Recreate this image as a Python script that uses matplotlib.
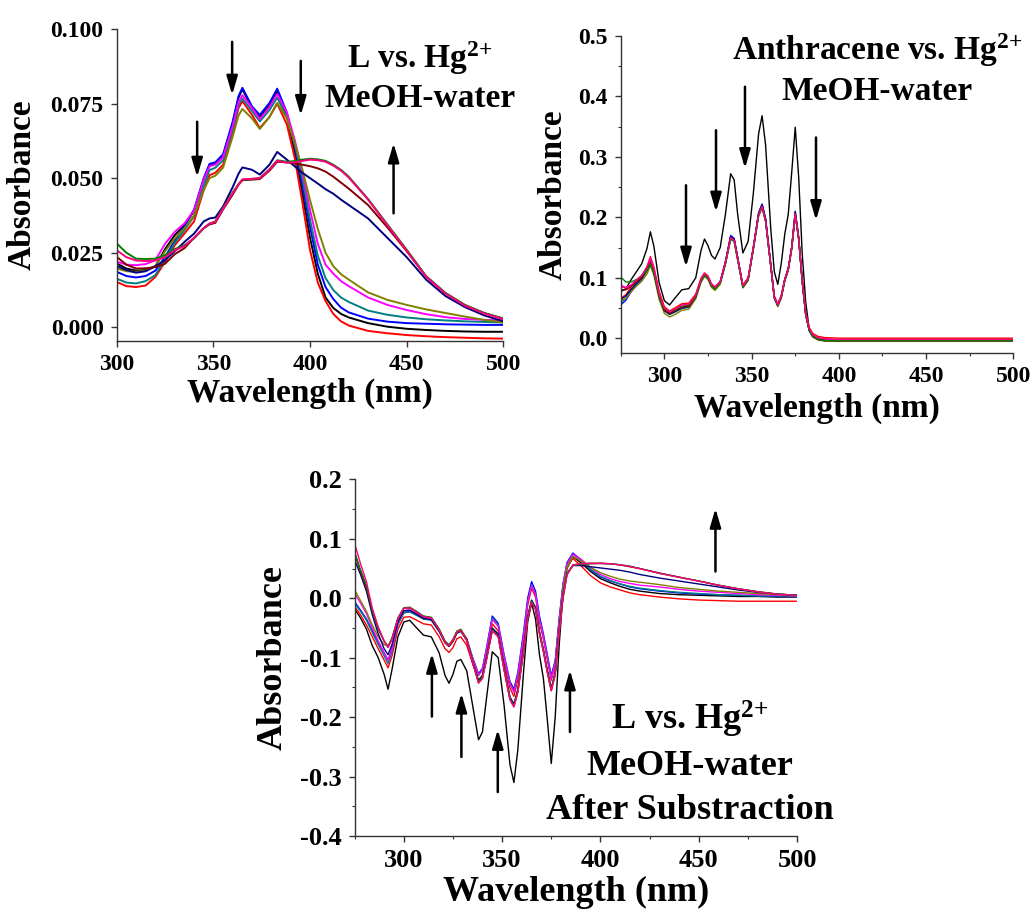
import matplotlib
matplotlib.use('Agg')
import matplotlib.pyplot as plt
from matplotlib.ticker import MultipleLocator, FormatStrFormatter

plt.rcParams['font.family'] = ['Liberation Serif', 'DejaVu Serif']
plt.rcParams['font.weight'] = 'bold'
plt.rcParams['mathtext.fontset'] = 'custom'
plt.rcParams['mathtext.rm'] = 'Liberation Serif:bold'
plt.rcParams['mathtext.it'] = 'Liberation Serif:bold'
plt.rcParams['mathtext.bf'] = 'Liberation Serif:bold'
plt.rcParams['axes.unicode_minus'] = False

# colour order used in all three panels
curve_colors = ['#000000', '#ff0000', '#0000ff', '#008080', '#ff00ff',
                '#808000', '#000080', '#800000', '#008000', '#ff0080']

################ PANEL 1 : L vs. Hg2+ ####################
l_wl = [300, 305, 310, 315, 320, 325, 330, 335, 340, 345, 348, 351, 355, 360, 363, 365,
        370, 374, 379, 383, 388, 392, 396, 400, 404, 408, 412, 416, 420, 430, 440, 450,
        460, 470, 480, 490, 500]
l_black = [0.0214, 0.0197, 0.0190, 0.0192, 0.0205, 0.0262, 0.0309, 0.0342, 0.0390, 0.0495, 0.0542, 0.0548,
           0.0575, 0.0685, 0.0770, 0.0798, 0.0735, 0.0705, 0.0745, 0.0790, 0.0710, 0.0590, 0.0450, 0.0300,
           0.0180, 0.0100, 0.0065, 0.0045, 0.0033, 0.0014, 0.0002, -0.0005, -0.0009, -0.0012, -0.0014,
           -0.0015, -0.0015]
l_red = [0.0152, 0.0138, 0.0135, 0.0140, 0.0169, 0.0219, 0.0275, 0.0314, 0.0355, 0.0460, 0.0510, 0.0518,
         0.0545, 0.0655, 0.0735, 0.0758, 0.0712, 0.0668, 0.0705, 0.0750, 0.0680, 0.0570, 0.0420, 0.0258,
         0.0150, 0.0088, 0.0045, 0.0020, 0.0006, -0.0012, -0.0020, -0.0026, -0.0030, -0.0033, -0.0035,
         -0.0037, -0.0038]
l_blue = [0.0186, 0.0172, 0.0167, 0.0172, 0.0190, 0.0236, 0.0290, 0.0338, 0.0395, 0.0500, 0.0548, 0.0553,
          0.0580, 0.0690, 0.0775, 0.0803, 0.0740, 0.0712, 0.0752, 0.0800, 0.0720, 0.0610, 0.0480, 0.0337,
          0.0210, 0.0135, 0.0095, 0.0066, 0.0050, 0.0029, 0.0019, 0.0014, 0.0012, 0.0010, 0.0009, 0.0008,
          0.0008]
l_teal = [0.0163, 0.0150, 0.0147, 0.0155, 0.0175, 0.0228, 0.0283, 0.0325, 0.0372, 0.0475, 0.0527, 0.0535,
          0.0560, 0.0665, 0.0745, 0.0767, 0.0725, 0.0690, 0.0728, 0.0770, 0.0705, 0.0615, 0.0500, 0.0360,
          0.0240, 0.0165, 0.0125, 0.0100, 0.0085, 0.0056, 0.0042, 0.0033, 0.0027, 0.0023, 0.0020, 0.0018,
          0.0016]
l_magenta = [0.0220, 0.0210, 0.0208, 0.0212, 0.0225, 0.0280, 0.0320, 0.0348, 0.0392, 0.0495, 0.0540, 0.0545,
             0.0570, 0.0675, 0.0755, 0.0778, 0.0735, 0.0698, 0.0738, 0.0782, 0.0720, 0.0630, 0.0520, 0.0393,
             0.0280, 0.0210, 0.0180, 0.0155, 0.0138, 0.0100, 0.0075, 0.0058, 0.0044, 0.0034, 0.0028, 0.0025,
             0.0023]
l_olive = [0.0197, 0.0188, 0.0186, 0.0190, 0.0205, 0.0255, 0.0298, 0.0331, 0.0375, 0.0460, 0.0500, 0.0508,
           0.0535, 0.0640, 0.0710, 0.0732, 0.0700, 0.0665, 0.0705, 0.0752, 0.0700, 0.0620, 0.0530, 0.0426,
           0.0330, 0.0250, 0.0205, 0.0178, 0.0160, 0.0117, 0.0092, 0.0075, 0.0060, 0.0048, 0.0036, 0.0025,
           0.0016]
l_navy = [0.0205, 0.0192, 0.0183, 0.0188, 0.0205, 0.0225, 0.0255, 0.0286, 0.0314, 0.0355, 0.0365, 0.0368,
          0.0405, 0.0470, 0.0515, 0.0536, 0.0528, 0.0512, 0.0545, 0.0588, 0.0562, 0.0540, 0.0518, 0.0500,
          0.0482, 0.0463, 0.0448, 0.0428, 0.0410, 0.0365, 0.0300, 0.0235, 0.0160, 0.0105, 0.0068, 0.0040,
          0.0020]
l_maroon = [0.0236, 0.0210, 0.0197, 0.0198, 0.0202, 0.0213, 0.0245, 0.0265, 0.0300, 0.0332, 0.0345, 0.0350,
            0.0395, 0.0445, 0.0478, 0.0493, 0.0495, 0.0497, 0.0525, 0.0555, 0.0553, 0.0549, 0.0545, 0.0540,
            0.0533, 0.0522, 0.0505, 0.0485, 0.0465, 0.0410, 0.0335, 0.0255, 0.0170, 0.0115, 0.0075, 0.0048,
            0.0028]
l_green = [0.0281, 0.0250, 0.0230, 0.0229, 0.0230, 0.0242, 0.0262, 0.0275, 0.0298, 0.0332, 0.0347, 0.0355,
           0.0400, 0.0452, 0.0480, 0.0495, 0.0497, 0.0500, 0.0530, 0.0560, 0.0555, 0.0557, 0.0562, 0.0565,
           0.0563, 0.0558, 0.0545, 0.0528, 0.0505, 0.0430, 0.0345, 0.0260, 0.0172, 0.0115, 0.0075, 0.0048,
           0.0030]
l_pink = [0.0258, 0.0235, 0.0224, 0.0222, 0.0224, 0.0235, 0.0258, 0.0272, 0.0300, 0.0333, 0.0348, 0.0354,
          0.0398, 0.0450, 0.0478, 0.0496, 0.0498, 0.0500, 0.0528, 0.0558, 0.0552, 0.0553, 0.0558, 0.0562,
          0.0560, 0.0555, 0.0542, 0.0525, 0.0502, 0.0428, 0.0342, 0.0257, 0.0170, 0.0113, 0.0073, 0.0046,
          0.0028]

################ PANEL 2 : Anthracene vs. Hg2+ ####################
an_wl = [275, 278, 281, 284, 287, 290, 292, 294, 297, 300, 303, 306, 310, 314, 318, 321, 323, 325,
         327, 329, 332, 335, 338, 340, 342, 345, 348, 351, 354, 356, 358, 361, 363, 365, 367, 369,
         371, 373, 375, 377, 379, 381, 383, 385, 388, 392, 400, 450, 500]
an_black = [0.077, 0.082, 0.097, 0.110, 0.123, 0.148, 0.176, 0.152, 0.092, 0.062, 0.055, 0.066, 0.080,
            0.082, 0.100, 0.145, 0.164, 0.153, 0.137, 0.131, 0.150, 0.205, 0.272, 0.262, 0.205, 0.141,
            0.160, 0.240, 0.338, 0.368, 0.320, 0.180, 0.110, 0.089, 0.124, 0.172, 0.205, 0.275, 0.349,
            0.265, 0.140, 0.060, 0.015, 0.004, -0.001, -0.002, -0.003, -0.003, -0.003]
an_red = [0.066, 0.072, 0.085, 0.095, 0.103, 0.118, 0.135, 0.118, 0.078, 0.052, 0.045, 0.050, 0.057,
          0.058, 0.073, 0.099, 0.108, 0.103, 0.090, 0.085, 0.094, 0.127, 0.168, 0.164, 0.134, 0.088,
          0.100, 0.151, 0.206, 0.220, 0.197, 0.122, 0.070, 0.057, 0.071, 0.098, 0.116, 0.151, 0.207,
          0.166, 0.097, 0.043, 0.018, 0.008, 0.003, 0.001, 0.000, 0.000, 0.000]
an_blue = [0.055, 0.063, 0.077, 0.088, 0.097, 0.112, 0.128, 0.111, 0.070, 0.046, 0.040, 0.044, 0.050,
           0.052, 0.069, 0.096, 0.106, 0.101, 0.088, 0.083, 0.093, 0.126, 0.170, 0.165, 0.134, 0.085,
           0.097, 0.150, 0.207, 0.222, 0.198, 0.121, 0.068, 0.054, 0.068, 0.097, 0.115, 0.151, 0.210,
           0.166, 0.095, 0.040, 0.014, 0.004, -0.001, -0.003, -0.003, -0.003, -0.003]
an_teal = [0.058, 0.066, 0.079, 0.089, 0.098, 0.111, 0.125, 0.109, 0.069, 0.045, 0.039, 0.043, 0.049,
           0.051, 0.068, 0.095, 0.105, 0.100, 0.087, 0.082, 0.092, 0.125, 0.167, 0.163, 0.132, 0.086,
           0.098, 0.150, 0.206, 0.221, 0.197, 0.120, 0.067, 0.054, 0.068, 0.097, 0.114, 0.150, 0.208,
           0.165, 0.095, 0.040, 0.014, 0.004, -0.002, -0.004, -0.004, -0.004, -0.004]
an_magenta = [0.088, 0.084, 0.088, 0.095, 0.102, 0.116, 0.132, 0.115, 0.073, 0.048, 0.042, 0.046, 0.052,
              0.054, 0.070, 0.097, 0.106, 0.101, 0.088, 0.083, 0.093, 0.126, 0.167, 0.163, 0.133, 0.087,
              0.099, 0.150, 0.205, 0.219, 0.196, 0.121, 0.069, 0.056, 0.070, 0.097, 0.115, 0.150, 0.206,
              0.165, 0.096, 0.041, 0.015, 0.005, -0.001, -0.003, -0.003, -0.003, -0.003]
an_olive = [0.062, 0.066, 0.077, 0.086, 0.094, 0.106, 0.120, 0.104, 0.064, 0.041, 0.035, 0.039, 0.046,
            0.048, 0.065, 0.092, 0.102, 0.097, 0.084, 0.079, 0.089, 0.122, 0.164, 0.160, 0.129, 0.083,
            0.095, 0.147, 0.202, 0.216, 0.193, 0.118, 0.066, 0.052, 0.066, 0.094, 0.112, 0.147, 0.204,
            0.162, 0.093, 0.038, 0.012, 0.002, -0.003, -0.005, -0.005, -0.005, -0.005]
an_navy = [0.064, 0.070, 0.081, 0.091, 0.099, 0.113, 0.127, 0.110, 0.070, 0.046, 0.040, 0.044, 0.050,
           0.052, 0.069, 0.096, 0.105, 0.100, 0.087, 0.082, 0.092, 0.125, 0.168, 0.164, 0.133, 0.085,
           0.097, 0.149, 0.206, 0.221, 0.197, 0.120, 0.067, 0.054, 0.068, 0.096, 0.114, 0.150, 0.209,
           0.165, 0.094, 0.039, 0.013, 0.003, -0.002, -0.004, -0.004, -0.004, -0.004]
an_maroon = [0.080, 0.080, 0.086, 0.093, 0.100, 0.112, 0.124, 0.108, 0.070, 0.046, 0.041, 0.045, 0.051,
             0.053, 0.069, 0.096, 0.105, 0.100, 0.087, 0.082, 0.092, 0.124, 0.165, 0.161, 0.131, 0.085,
             0.097, 0.148, 0.203, 0.217, 0.194, 0.119, 0.067, 0.054, 0.068, 0.096, 0.113, 0.149, 0.205,
             0.163, 0.094, 0.039, 0.013, 0.003, -0.002, -0.004, -0.004, -0.004, -0.004]
an_green = [0.101, 0.093, 0.093, 0.097, 0.103, 0.112, 0.122, 0.107, 0.071, 0.049, 0.044, 0.047, 0.053,
            0.055, 0.070, 0.096, 0.104, 0.099, 0.086, 0.081, 0.091, 0.123, 0.164, 0.160, 0.130, 0.085,
            0.097, 0.148, 0.203, 0.216, 0.193, 0.119, 0.067, 0.054, 0.068, 0.096, 0.113, 0.149, 0.205,
            0.163, 0.094, 0.039, 0.013, 0.003, -0.002, -0.004, -0.004, -0.004, -0.004]
an_pink = [0.085, 0.083, 0.088, 0.096, 0.104, 0.117, 0.130, 0.114, 0.074, 0.050, 0.044, 0.048, 0.055,
           0.056, 0.071, 0.098, 0.107, 0.102, 0.089, 0.084, 0.093, 0.126, 0.166, 0.162, 0.132, 0.087,
           0.099, 0.150, 0.204, 0.218, 0.195, 0.120, 0.068, 0.055, 0.069, 0.097, 0.114, 0.150, 0.206,
           0.164, 0.095, 0.041, 0.016, 0.006, 0.001, -0.001, -0.002, -0.002, -0.002]

################ PANEL 3 : after substraction ####################
sub_wl = [275, 278, 281, 284, 287, 290, 292, 294, 297, 300, 303, 306, 310, 314, 318, 321, 323, 325,
          327, 329, 332, 335, 338, 340, 342, 345, 348, 351, 354, 356, 358, 361, 363, 365, 367, 369,
          371, 373, 375, 377, 379, 381, 383, 386, 390, 395, 400, 405, 410, 415, 420, 430, 440, 450,
          460, 470, 480, 490, 500]
sub_black = [-0.018, -0.033, -0.052, -0.080, -0.100, -0.128, -0.153, -0.120, -0.065, -0.040, -0.037,
             -0.048, -0.062, -0.065, -0.092, -0.130, -0.143, -0.128, -0.106, -0.103, -0.122, -0.180,
             -0.238, -0.225, -0.170, -0.090, -0.100, -0.180, -0.280, -0.310, -0.255, -0.120, -0.040,
             -0.008, -0.035, -0.095, -0.135, -0.205, -0.278, -0.200, -0.080, 0.010, 0.050, 0.070, 0.060,
             0.045, 0.033, 0.026, 0.020, 0.015, 0.012, 0.008, 0.006, 0.005, 0.004, 0.003, 0.003, 0.002,
             0.002]
sub_red = [-0.014, -0.028, -0.045, -0.065, -0.085, -0.104, -0.117, -0.097, -0.052, -0.032, -0.031,
           -0.036, -0.043, -0.045, -0.065, -0.085, -0.091, -0.083, -0.068, -0.065, -0.079, -0.110,
           -0.138, -0.129, -0.096, -0.043, -0.055, -0.107, -0.151, -0.165, -0.137, -0.068, -0.012,
           0.017, 0.002, -0.040, -0.068, -0.103, -0.138, -0.112, -0.042, 0.018, 0.052, 0.067, 0.055,
           0.038, 0.026, 0.019, 0.014, 0.009, 0.006, 0.002, -0.001, -0.003, -0.004, -0.005, -0.005,
           -0.005, -0.005]
sub_blue = [-0.006, -0.020, -0.035, -0.055, -0.075, -0.092, -0.104, -0.085, -0.042, -0.024, -0.022,
            -0.027, -0.034, -0.036, -0.055, -0.074, -0.080, -0.072, -0.058, -0.055, -0.068, -0.100,
            -0.127, -0.118, -0.085, -0.030, -0.042, -0.095, -0.140, -0.153, -0.125, -0.055, 0.000,
            0.028, 0.012, -0.030, -0.060, -0.095, -0.130, -0.105, -0.035, 0.025, 0.060, 0.076, 0.065,
            0.048, 0.036, 0.029, 0.024, 0.019, 0.016, 0.012, 0.009, 0.007, 0.006, 0.005, 0.004, 0.003,
            0.003]
sub_teal = [-0.009, -0.022, -0.037, -0.058, -0.078, -0.097, -0.110, -0.090, -0.045, -0.025, -0.023,
            -0.028, -0.035, -0.037, -0.056, -0.075, -0.081, -0.073, -0.059, -0.056, -0.070, -0.102,
            -0.130, -0.121, -0.088, -0.033, -0.045, -0.098, -0.143, -0.157, -0.129, -0.060, -0.005,
            0.022, 0.007, -0.035, -0.064, -0.099, -0.134, -0.108, -0.038, 0.022, 0.057, 0.074, 0.064,
            0.049, 0.037, 0.030, 0.024, 0.020, 0.017, 0.013, 0.010, 0.008, 0.006, 0.005, 0.004, 0.004,
            0.003]
sub_magenta = [0.008, -0.008, -0.026, -0.050, -0.072, -0.092, -0.105, -0.086, -0.042, -0.021, -0.020,
               -0.025, -0.033, -0.035, -0.054, -0.073, -0.079, -0.071, -0.057, -0.054, -0.068, -0.101,
               -0.129, -0.120, -0.087, -0.036, -0.047, -0.099, -0.144, -0.158, -0.130, -0.062, -0.007,
               0.021, 0.006, -0.036, -0.065, -0.100, -0.135, -0.109, -0.038, 0.022, 0.057, 0.074, 0.066,
               0.052, 0.040, 0.033, 0.028, 0.025, 0.022, 0.019, 0.015, 0.012, 0.010, 0.008, 0.006, 0.005,
               0.004]
sub_olive = [0.014, -0.004, -0.022, -0.045, -0.065, -0.078, -0.080, -0.068, -0.035, -0.017, -0.016,
             -0.022, -0.030, -0.033, -0.052, -0.072, -0.078, -0.069, -0.055, -0.052, -0.068, -0.105,
             -0.138, -0.130, -0.100, -0.052, -0.062, -0.118, -0.168, -0.180, -0.155, -0.085, -0.032,
             -0.004, -0.017, -0.058, -0.088, -0.122, -0.153, -0.125, -0.050, 0.015, 0.052, 0.070, 0.063,
             0.052, 0.043, 0.037, 0.032, 0.029, 0.027, 0.023, 0.018, 0.015, 0.012, 0.010, 0.008, 0.006,
             0.005]
sub_navy = [0.064, 0.040, 0.012, -0.028, -0.060, -0.085, -0.095, -0.078, -0.040, -0.021, -0.020,
            -0.026, -0.034, -0.036, -0.055, -0.075, -0.081, -0.072, -0.058, -0.055, -0.070, -0.106,
            -0.139, -0.131, -0.101, -0.050, -0.060, -0.116, -0.166, -0.178, -0.153, -0.083, -0.030,
            -0.003, -0.015, -0.056, -0.086, -0.121, -0.152, -0.125, -0.055, 0.005, 0.042, 0.055, 0.055,
            0.053, 0.051, 0.049, 0.047, 0.044, 0.040, 0.034, 0.029, 0.024, 0.019, 0.014, 0.010, 0.007,
            0.005]
sub_maroon = [0.074, 0.045, 0.018, -0.022, -0.052, -0.072, -0.082, -0.068, -0.034, -0.017, -0.016,
              -0.022, -0.031, -0.033, -0.053, -0.074, -0.080, -0.071, -0.057, -0.054, -0.071, -0.108,
              -0.142, -0.134, -0.104, -0.054, -0.064, -0.120, -0.170, -0.182, -0.157, -0.087, -0.034,
              -0.006, -0.018, -0.059, -0.089, -0.124, -0.155, -0.128, -0.058, 0.002, 0.040, 0.056, 0.058,
              0.059, 0.059, 0.058, 0.056, 0.053, 0.050, 0.0425, 0.0355, 0.029, 0.022, 0.016, 0.011,
              0.007, 0.005]
sub_green = [0.078, 0.048, 0.022, -0.020, -0.050, -0.072, -0.081, -0.067, -0.033, -0.016, -0.015,
             -0.021, -0.030, -0.032, -0.052, -0.073, -0.079, -0.070, -0.056, -0.053, -0.070, -0.107,
             -0.141, -0.133, -0.103, -0.053, -0.063, -0.119, -0.169, -0.181, -0.156, -0.086, -0.033,
             -0.005, -0.017, -0.058, -0.088, -0.123, -0.154, -0.127, -0.057, 0.003, 0.041, 0.055, 0.057,
             0.058, 0.0585, 0.058, 0.0565, 0.054, 0.050, 0.042, 0.0355, 0.029, 0.022, 0.016, 0.011,
             0.007, 0.005]
sub_pink = [0.092, 0.058, 0.028, -0.017, -0.048, -0.072, -0.083, -0.069, -0.034, -0.017, -0.016,
            -0.022, -0.031, -0.033, -0.053, -0.074, -0.080, -0.071, -0.057, -0.054, -0.071, -0.108,
            -0.143, -0.135, -0.105, -0.055, -0.065, -0.121, -0.171, -0.183, -0.158, -0.088, -0.035,
            -0.007, -0.019, -0.060, -0.090, -0.125, -0.156, -0.129, -0.059, 0.001, 0.039, 0.056, 0.058,
            0.0585, 0.0585, 0.058, 0.0562, 0.0535, 0.0498, 0.0418, 0.0352, 0.0288, 0.0218, 0.0158,
            0.0108, 0.0068, 0.0048]

l_curves = [l_black, l_red, l_blue, l_teal, l_magenta, l_olive, l_navy, l_maroon, l_green, l_pink]
an_curves = [an_black, an_red, an_blue, an_teal, an_magenta, an_olive, an_navy, an_maroon, an_green, an_pink]
sub_curves = [sub_black, sub_red, sub_blue, sub_teal, sub_magenta, sub_olive, sub_navy, sub_maroon,
              sub_green, sub_pink]

# arrows as (wavelength, tail absorbance, head absorbance)
l_arrows = [(341.6, 0.0689, 0.0504), (359.7, 0.0957, 0.0779), (395.2, 0.0893, 0.0711),
            (443.2, 0.0382, 0.0617)]
an_arrows = [(312.4, 0.253, 0.118), (329.6, 0.344, 0.209), (346.2, 0.416, 0.281),
             (386.9, 0.332, 0.195)]
sub_arrows = [(314.3, -0.199, -0.093), (329.3, -0.267, -0.160), (347.8, -0.326, -0.221),
              (384.5, -0.225, -0.121), (458.5, 0.045, 0.151)]

HG = 'Hg$^{2{+}}$'


def style_axes(ax, tick_size, label_size, ylab_x, xlab_y):
    for side in ['top', 'right']:
        ax.spines[side].set_visible(False)
    for side in ['left', 'bottom']:
        ax.spines[side].set_linewidth(1.0)
        ax.spines[side].set_color('#333333')
    ax.tick_params(which='major', direction='out', length=4.5, width=1.0,
                   labelsize=tick_size, pad=5, color='#333333')
    ax.tick_params(which='minor', direction='out', length=2.5, width=0.8, color='#333333')
    for lab in ax.get_xticklabels() + ax.get_yticklabels():
        lab.set_fontweight('bold')
    ax.set_xlabel('Wavelength (nm)', fontsize=label_size, fontweight='bold')
    ax.set_ylabel('Absorbance', fontsize=label_size, fontweight='bold')
    ax.xaxis.set_label_coords(0.5, xlab_y)
    ax.yaxis.set_label_coords(ylab_x, 0.5)
    ax.xaxis.label.set_va('center')
    ax.yaxis.label.set_va('center')


def draw_arrows(ax, arrows):
    for x, y0, y1 in arrows:
        ax.annotate('', xy=(x, y1), xytext=(x, y0),
                    arrowprops=dict(arrowstyle='-|>,head_length=0.75,head_width=0.22',
                                    lw=1.8, color='black', shrinkA=0, shrinkB=0,
                                    mutation_scale=15))


fig = plt.figure(figsize=(10.33, 9.15), dpi=100)

# ---- top left
ax1 = fig.add_axes([0.1130, 0.6273, 0.3743, 0.3410])
for ys, c in zip(l_curves, curve_colors):
    ax1.plot(l_wl, ys, color=c, lw=1.4)
ax1.set_xlim(300, 500)
ax1.set_ylim(-0.0046, 0.100)
ax1.xaxis.set_major_locator(MultipleLocator(50))
ax1.yaxis.set_major_locator(MultipleLocator(0.025))
ax1.yaxis.set_major_formatter(FormatStrFormatter('%.3f'))
style_axes(ax1, 17, 24, -0.245, -0.167)
draw_arrows(ax1, l_arrows)
ax1.text(456.7, 0.0868, 'L vs. ' + HG, ha='center', va='baseline', fontsize=24, fontweight='bold')
ax1.text(456.7, 0.0737, 'MeOH-water', ha='center', va='baseline', fontsize=24, fontweight='bold')

# ---- top right
ax2 = fig.add_axes([0.6009, 0.6139, 0.3801, 0.3468])
for ys, c in zip(an_curves, curve_colors):
    ax2.plot(an_wl, ys, color=c, lw=1.0)
ax2.set_xlim(275, 500)
ax2.set_ylim(-0.025, 0.5)
ax2.xaxis.set_major_locator(MultipleLocator(50))
ax2.xaxis.set_minor_locator(MultipleLocator(25))
ax2.yaxis.set_major_locator(MultipleLocator(0.1))
ax2.yaxis.set_minor_locator(MultipleLocator(0.05))
ax2.yaxis.set_major_formatter(FormatStrFormatter('%.1f'))
style_axes(ax2, 17, 24, -0.172, -0.173)
draw_arrows(ax2, an_arrows)
ax2.text(421.7, 0.460, 'Anthracene vs. ' + HG, ha='center', va='baseline', fontsize=24,
         fontweight='bold')
ax2.text(421.7, 0.394, 'MeOH-water', ha='center', va='baseline', fontsize=24, fontweight='bold')

# ---- bottom
ax3 = fig.add_axes([0.3433, 0.0863, 0.4283, 0.3898])
for ys, c in zip(sub_curves, curve_colors):
    ax3.plot(sub_wl, ys, color=c, lw=1.0)
ax3.set_xlim(275, 500)
ax3.set_ylim(-0.4, 0.2)
ax3.xaxis.set_major_locator(MultipleLocator(50))
ax3.xaxis.set_minor_locator(MultipleLocator(25))
ax3.yaxis.set_major_locator(MultipleLocator(0.1))
ax3.yaxis.set_minor_locator(MultipleLocator(0.05))
ax3.yaxis.set_major_formatter(FormatStrFormatter('%.1f'))
style_axes(ax3, 19, 26, -0.1835, -0.158)
draw_arrows(ax3, sub_arrows)
ax3.text(445.6, -0.2217, 'L vs. ' + HG, ha='center', va='baseline', fontsize=26, fontweight='bold')
ax3.text(445.6, -0.297, 'MeOH-water', ha='center', va='baseline', fontsize=26, fontweight='bold')
ax3.text(445.6, -0.372, 'After Substraction', ha='center', va='baseline', fontsize=26,
         fontweight='bold')

fig.savefig('out.png', dpi=100)
